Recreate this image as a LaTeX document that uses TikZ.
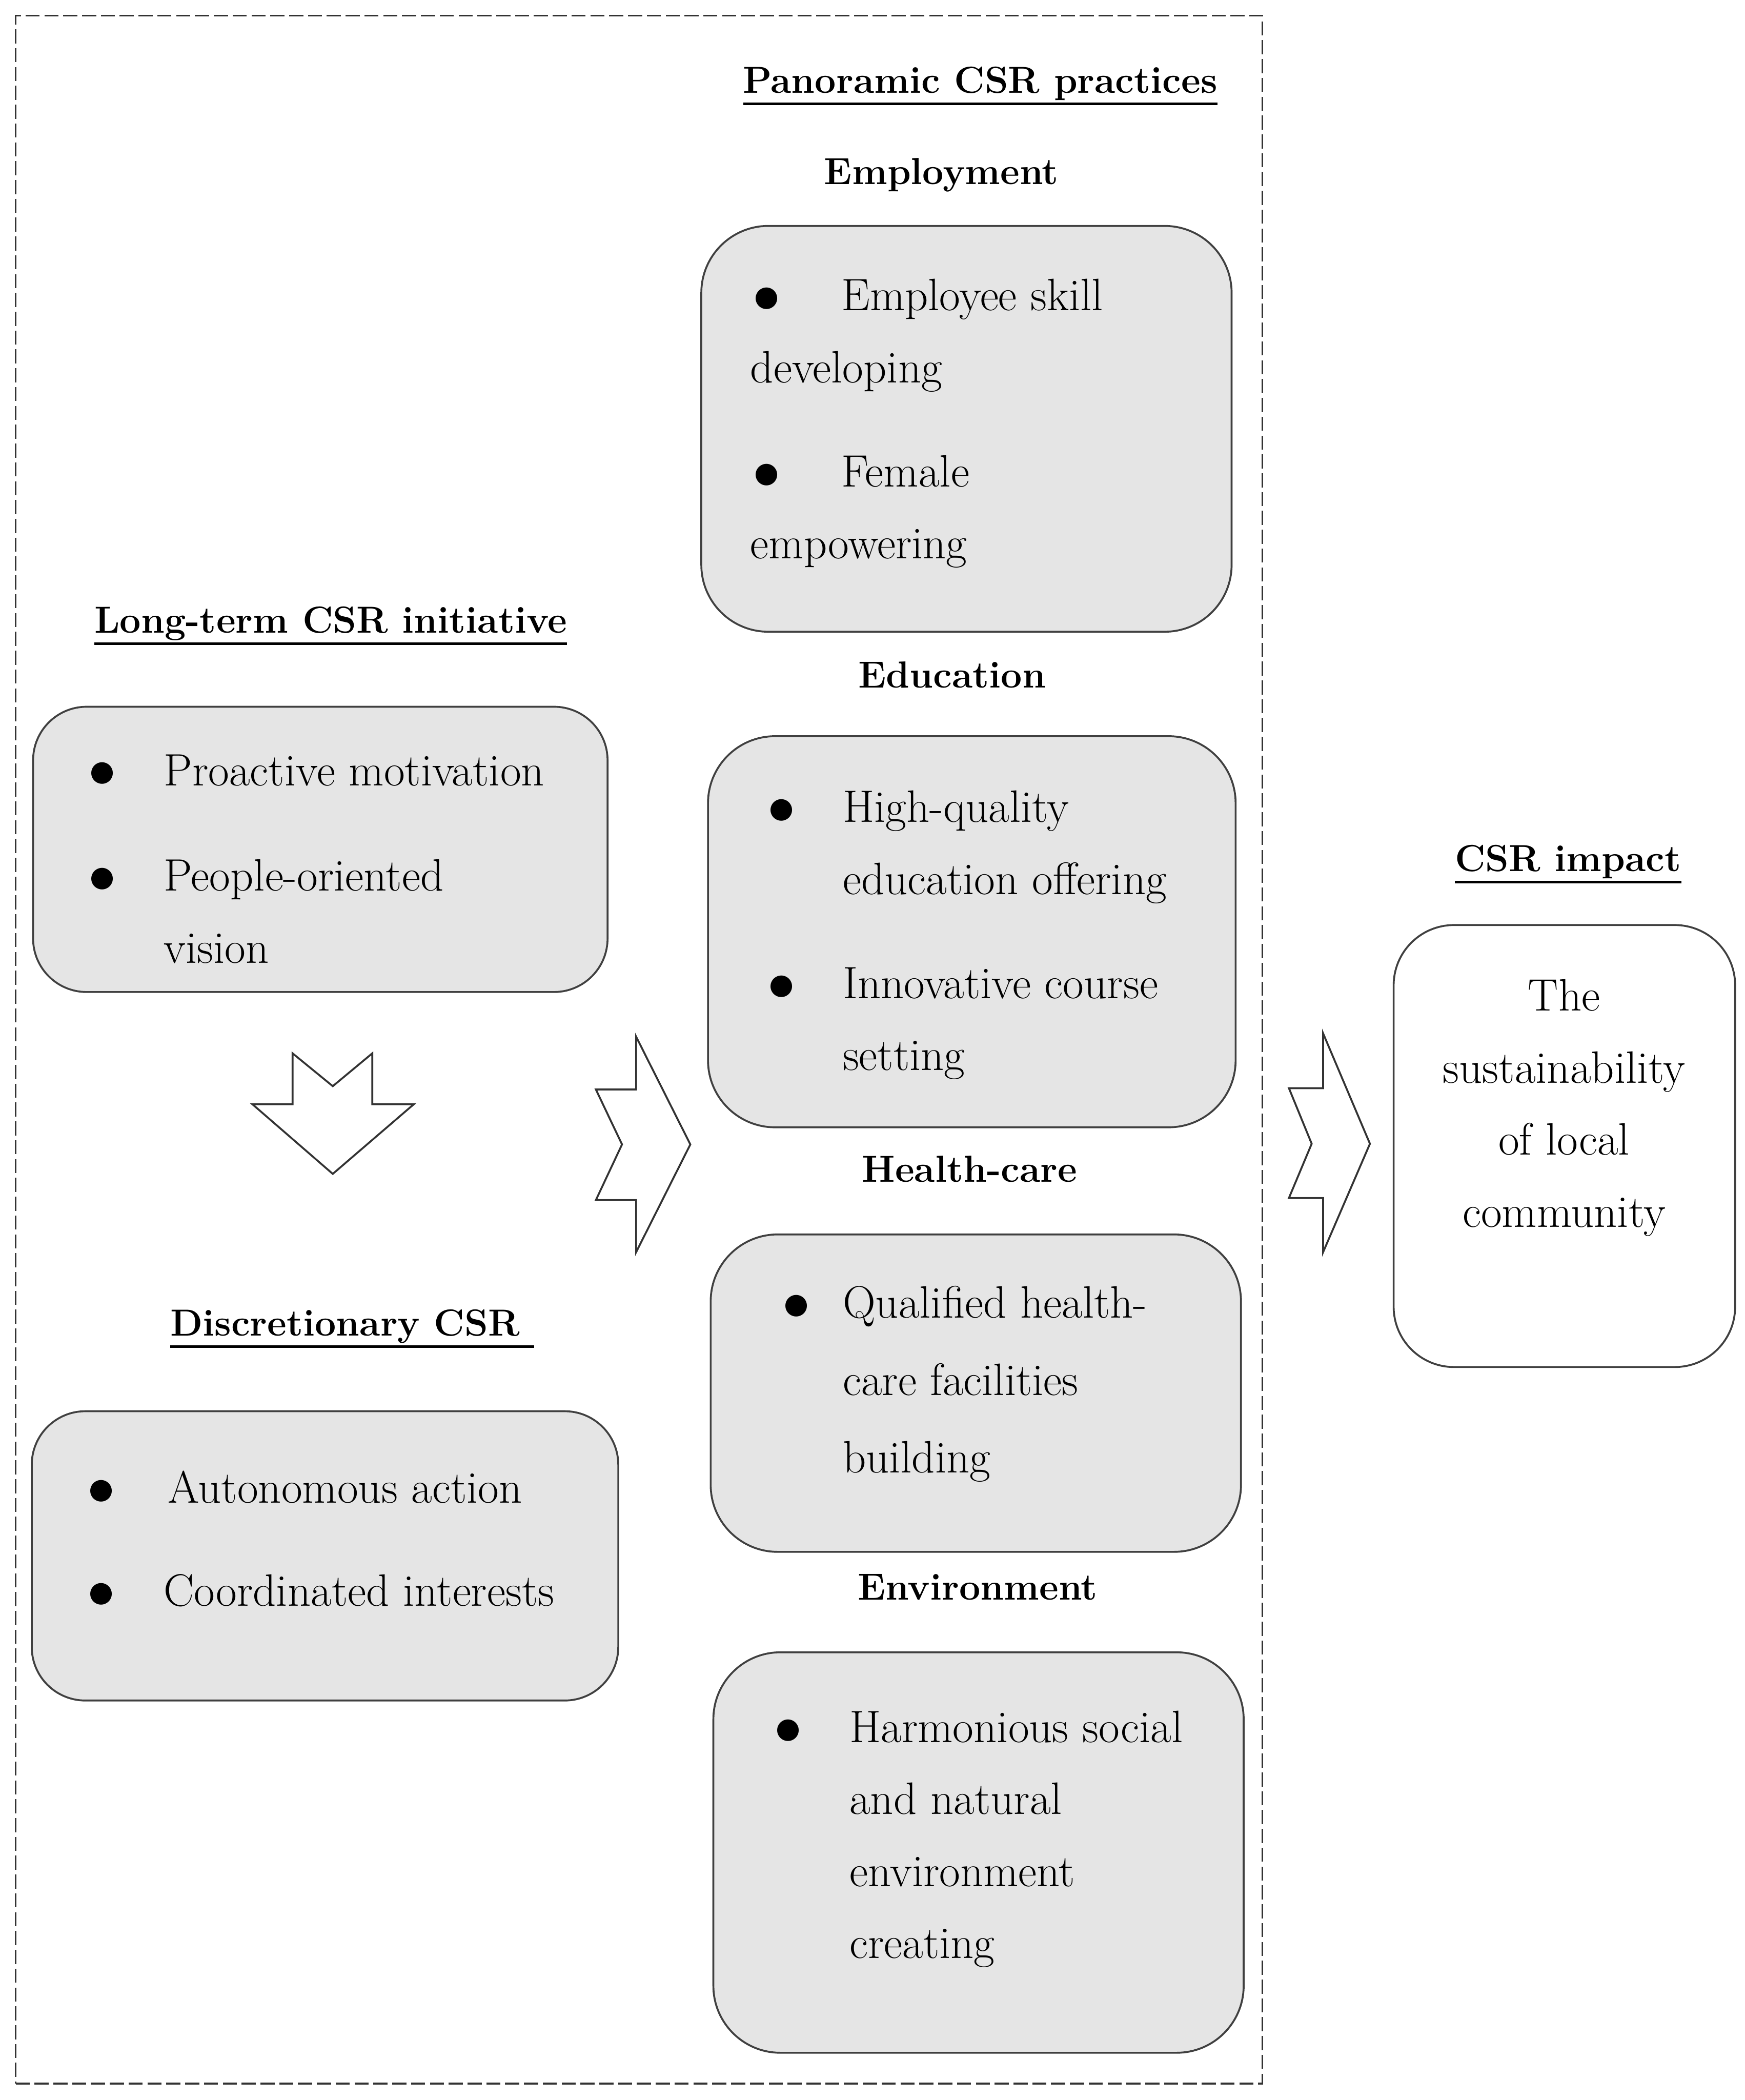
\documentclass[tikz,border=0pt]{standalone}
\usepackage{xcolor}
\usepackage{fontspec}
\usetikzlibrary{positioning, calc}

\newfontfamily\bulfont{DejaVu Sans}

% bullet with a fixed gap before the item text
\newcommand{\bul}[1][1.16cm]{\makebox[#1][l]{\hspace*{0.06cm}\raisebox{0.07cm}{\bulfont\fontsize{12}{12}\selectfont ●}}}
\newcommand{\skipbul}[1][1.16cm]{\hspace*{#1}}
% heading underline, a bit heavier than \underline
\newcommand{\ulhead}[1]{\setbox0\hbox{#1}\rlap{\rule[-0.32em]{\wd0}{1.1pt}}\box0}

\begin{document}
\begin{tikzpicture}[
    panel/.style={draw=black!75, line width=0.8pt, rounded corners=1cm, fill=black!10, anchor=north west, inner sep=0pt},
    listtext/.style={anchor=north west, inner sep=0pt, align=left, font=\fontsize{19.3}{30.6}\selectfont},
    head/.style={inner sep=0pt, text height=0.45cm, text depth=0.15cm, font=\fontsize{16}{20}\selectfont\bfseries},
    frame/.style={draw=black!80, line width=0.8pt, dash pattern=on 6pt off 2pt, anchor=north west, inner sep=0pt},
    blockarrow/.style={draw=black!80, line width=0.8pt, fill=white, line join=miter}
]
\useasboundingbox (0,0) rectangle (26.06,-31.36);

% Dashed frame round the first two columns
\node[frame, minimum width=18.62cm, minimum height=30.88cm] (panorama) at (0.22,-0.22) {};

% Middle Column: Panoramic CSR practices
\node[head] (panohead) at (14.64,-1.24) {\ulhead{Panoramic CSR practices}};
\node[head] (emphead) at (14.06,-2.60) {Employment};
\node[panel, minimum width=7.92cm, minimum height=6.06cm] (emp) at (10.46,-3.36) {};
\node[listtext] (empTxt) at (11.20,-4.16) {\bul[1.36cm]Employee skill\\developing\\[0.48cm]\bul[1.36cm]Female\\empowering};

\node[head] (eduhead) at (14.22,-10.12) {Education};
\node[panel, minimum width=7.88cm, minimum height=5.84cm] (edu) at (10.56,-10.98) {};
\node[listtext] (eduTxt) at (11.42,-11.80) {\bul High-quality\\\skipbul education offering\\[0.48cm]\bul Innovative course\\\skipbul setting};

\node[head] (heahead) at (14.48,-17.50) {Health-care};
\node[panel, minimum width=7.92cm, minimum height=4.74cm] (hea) at (10.60,-18.42) {};
\node[listtext] (heaTxt) at (11.64,-19.20) {\bul[0.94cm]Qualified health-\\[0.08cm]\skipbul[0.94cm]care facilities\\[0.08cm]\skipbul[0.94cm]building};

\node[head] (envhead) at (14.60,-23.74) {Environment};
\node[panel, minimum width=7.92cm, minimum height=5.98cm] (env) at (10.64,-24.66) {};
\node[listtext] (envTxt) at (11.52,-25.54) {\bul Harmonious social\\\skipbul and natural\\\skipbul environment\\\skipbul creating};

% Left Column: initiative and discretion
\node[head] (ltchead) at (4.94,-9.30) {\ulhead{Long-term CSR initiative}};
\node[panel, rounded corners=0.8cm, minimum width=8.58cm, minimum height=4.26cm] (ltc) at (0.48,-10.54) {};
\node[listtext] (ltcTxt) at (1.28,-11.26) {\bul Proactive motivation\\[0.5cm]\bul People-oriented\\\skipbul vision};

\node[head] (dishead) at (5.26,-19.80) {\ulhead{Discretionary CSR~}};
\node[panel, rounded corners=0.8cm, minimum width=8.76cm, minimum height=4.32cm] (dis) at (0.46,-21.06) {};
\node[listtext] (disTxt) at (1.26,-21.96) {\bul[1.24cm]Autonomous action\\[0.46cm]\bul[1.18cm]Coordinated interests};

% Right Column: impact
\node[head] (imphead) at (23.42,-12.86) {\ulhead{CSR impact}};
\node[panel, fill=white, rounded corners=0.9cm, minimum width=5.10cm, minimum height=6.60cm] (imp) at (20.80,-13.80) {};
\node[listtext, anchor=north, align=center] (impTxt) at (23.36,-14.62) {The\\sustainability\\of local\\community};

% Block arrows
\draw[blockarrow] (4.37,-15.73) -- (4.97,-16.22) -- (5.56,-15.73) -- (5.56,-16.49) -- (6.18,-16.49)
    -- (4.97,-17.53) -- (3.77,-16.49) -- (4.37,-16.49) -- cycle;
\draw[blockarrow] (8.90,-16.27) -- (9.50,-16.27) -- (9.50,-15.48) -- (10.31,-17.09) -- (9.50,-18.70)
    -- (9.50,-17.92) -- (8.90,-17.92) -- (9.29,-17.09) -- cycle;
\draw[blockarrow] (19.25,-16.25) -- (19.76,-16.25) -- (19.76,-15.43) -- (20.46,-17.08) -- (19.76,-18.70)
    -- (19.76,-17.89) -- (19.25,-17.89) -- (19.59,-17.08) -- cycle;

\end{tikzpicture}
\end{document}
